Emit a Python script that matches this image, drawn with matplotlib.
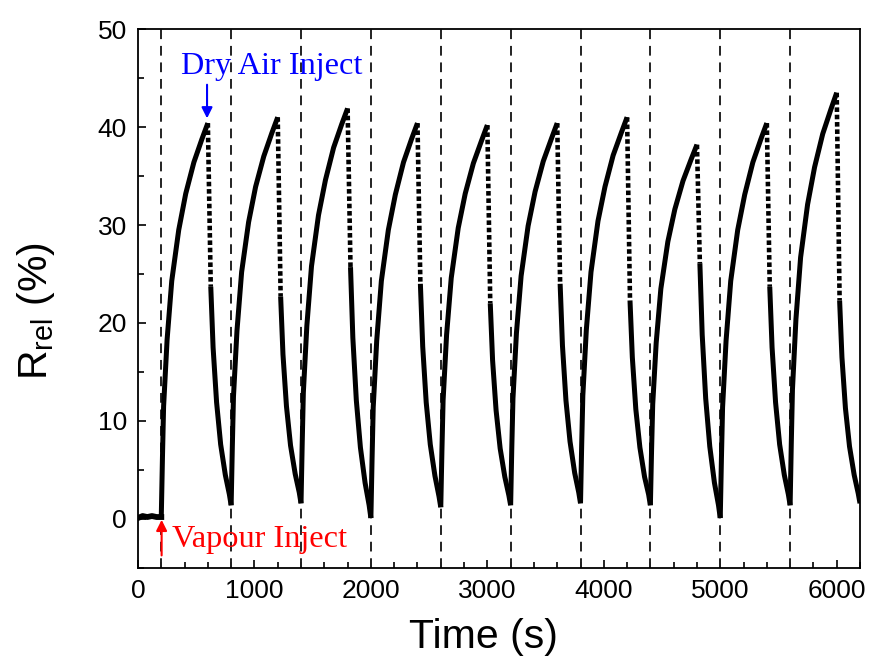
import matplotlib
matplotlib.use('Agg')
import matplotlib.pyplot as plt
from matplotlib.ticker import MultipleLocator

# Time points (s) relative to each vapour injection, and the values
rise_offsets = [0, 10, 20, 50, 90, 150, 210, 280, 350, 400]
decay_offsets = [400, 425, 445, 475, 510, 550, 585, 600]  # first = peak (dry air inject)

vapour_times = [200, 800, 1400, 2000, 2600, 3200, 3800, 4400, 5000, 5600]

baseline_t = [0, 40, 80, 120, 160, 200]
baseline_r = [0.1, 0.3, 0.2, 0.3, 0.2, 0.2]

rise_vals = [
    [0.2, 6.2, 11.5, 18.3, 24.3, 29.5, 33.2, 36.4, 38.8, 40.4],
    [1.4, 7.3, 12.5, 19.2, 25.2, 30.3, 33.9, 37.0, 39.4, 41.0],
    [1.6, 7.6, 12.9, 19.7, 25.8, 31.0, 34.6, 37.9, 40.3, 41.9],
    [0.1, 6.1, 11.4, 18.2, 24.3, 29.5, 33.1, 36.4, 38.8, 40.4],
    [1.2, 7.0, 12.1, 18.8, 24.6, 29.7, 33.2, 36.3, 38.6, 40.2],
    [1.4, 7.3, 12.3, 19.0, 24.8, 29.9, 33.4, 36.5, 38.8, 40.4],
    [1.6, 7.5, 12.6, 19.3, 25.2, 30.4, 33.9, 37.1, 39.4, 41.0],
    [1.4, 6.9, 11.7, 18.0, 23.5, 28.3, 31.6, 34.5, 36.7, 38.2],
    [0.1, 6.1, 11.4, 18.2, 24.3, 29.5, 33.1, 36.4, 38.8, 40.4],
    [1.4, 7.7, 13.2, 20.4, 26.7, 32.1, 35.9, 39.3, 41.8, 43.5],
]

decay_vals = [
    [40.4, 23.7, 17.5, 11.9, 7.6, 4.5, 2.5, 1.4],
    [41.0, 22.7, 16.8, 11.5, 7.5, 4.6, 2.7, 1.6],
    [41.9, 25.7, 18.5, 12.1, 7.3, 3.7, 1.4, 0.1],
    [40.4, 24.0, 17.6, 11.9, 7.6, 4.4, 2.3, 1.2],
    [40.2, 22.0, 16.2, 11.1, 7.2, 4.3, 2.4, 1.4],
    [40.4, 24.0, 17.7, 12.1, 7.9, 4.7, 2.7, 1.6],
    [41.0, 22.3, 16.5, 11.2, 7.3, 4.3, 2.5, 1.4],
    [38.2, 26.1, 18.8, 12.3, 7.4, 3.7, 1.4, 0.1],
    [40.4, 23.7, 17.5, 11.9, 7.6, 4.5, 2.5, 1.4],
    [43.5, 22.3, 16.5, 11.3, 7.4, 4.5, 2.6, 1.6],
]

plt.rcParams['font.family'] = 'Liberation Sans'
plt.rcParams['mathtext.default'] = 'regular'

fig = plt.figure(figsize=(8.7, 6.64), dpi=100)
ax = fig.add_axes([0.1586, 0.1446, 0.8299, 0.8117])

curve_kw = dict(color='black', lw=3.6, solid_capstyle='butt', zorder=3)

ax.plot(baseline_t, baseline_r, color='black', lw=4.2, zorder=3)

for t0, rv, dv in zip(vapour_times, rise_vals, decay_vals):
    t_rise = [t0 + o for o in rise_offsets]
    t_decay = [t0 + o for o in decay_offsets]
    ax.plot(t_rise, rv, **curve_kw)
    # sparse points during the sudden drop look dotted
    ax.plot(t_decay[:2], dv[:2], color='black', lw=3.3, dashes=(1.0, 0.6), zorder=3)
    ax.plot(t_decay[1:], dv[1:], **curve_kw)

# vapour injection markers
for t0 in vapour_times:
    ax.axvline(t0, color='#222222', lw=1.4, dashes=(5, 3.5), zorder=2)

ax.set_xlim(0, 6200)
ax.set_ylim(-5, 50)
ax.xaxis.set_major_locator(MultipleLocator(1000))
ax.xaxis.set_minor_locator(MultipleLocator(200))
ax.yaxis.set_major_locator(MultipleLocator(10))
ax.yaxis.set_minor_locator(MultipleLocator(5))
ax.tick_params(which='both', direction='in', width=1.2, labelsize=19, pad=8)
ax.tick_params(which='major', length=6)
ax.tick_params(which='minor', length=4)
for s in ax.spines.values():
    s.set_linewidth(1.3)

ax.set_xlabel('Time (s)', fontsize=29.5)
ax.set_ylabel('R$_{rel}$ (%)', fontsize=29.5)
ax.xaxis.set_label_coords(0.478, -0.092)
ax.yaxis.set_label_coords(-0.112, 0.477)

ax.annotate('', xy=(593, 40.6), xytext=(593, 44.6),
            arrowprops=dict(arrowstyle='-|>', color='blue', lw=1.5, mutation_scale=16))
ax.text(369, 45.4, 'Dry Air Inject', color='blue', fontsize=23.3,
        family='Liberation Serif', va='baseline', ha='left')

ax.annotate('', xy=(203, 0.2), xytext=(203, -4.0),
            arrowprops=dict(arrowstyle='-|>', color='red', lw=1.5, mutation_scale=16))
ax.text(292, -2.9, 'Vapour Inject', color='red', fontsize=23.3,
        family='Liberation Serif', va='baseline', ha='left')

fig.savefig('out.png', dpi=100)
